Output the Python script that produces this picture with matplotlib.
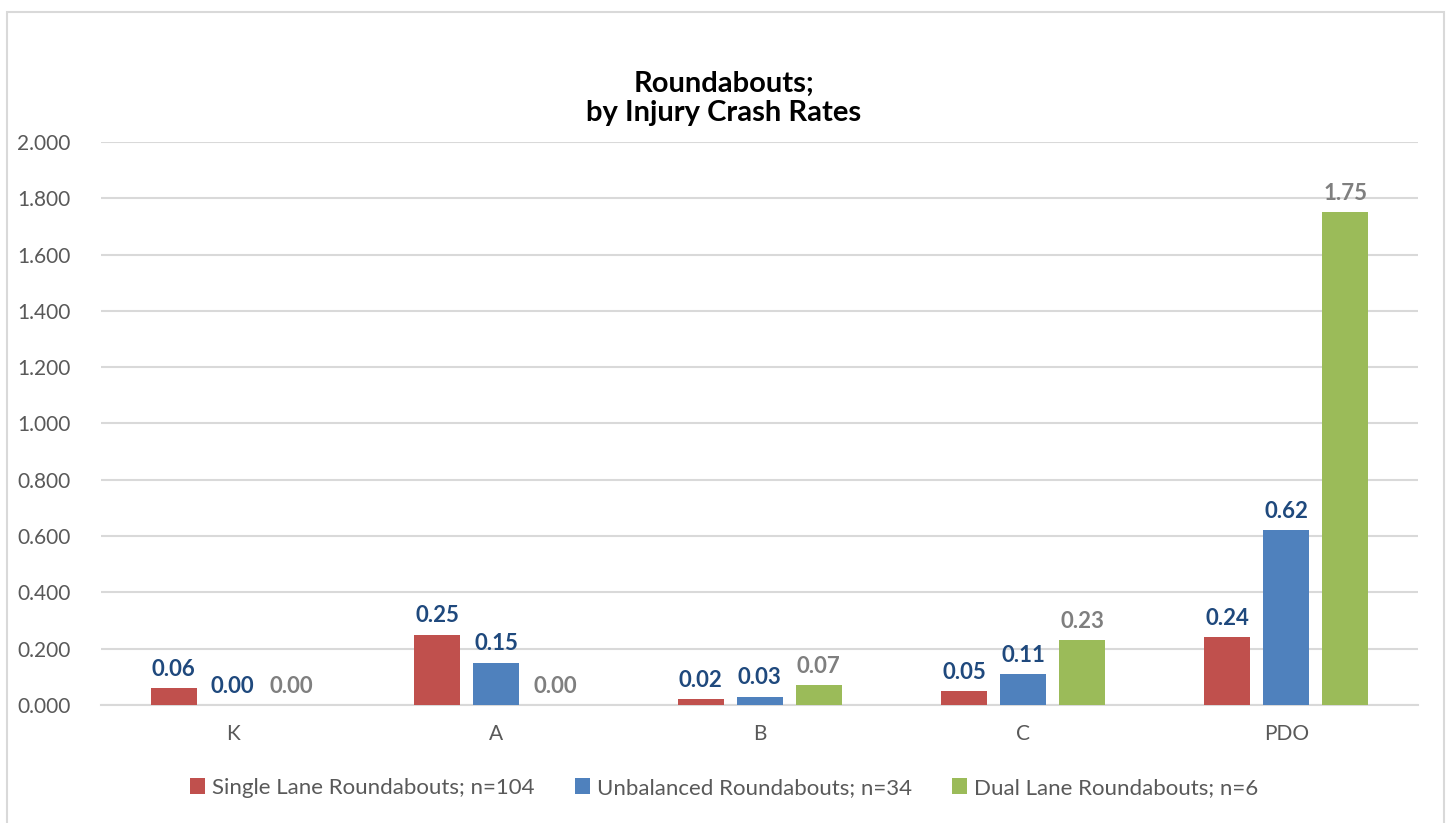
import matplotlib.pyplot as plt
import matplotlib.patches as patches
import numpy as np

plt.rcParams['font.family'] = ['Lato', 'DejaVu Sans']

# Daten
categories = ['K', 'A', 'B', 'C', 'PDO']
single_lane = [0.06, 0.25, 0.02, 0.05, 0.24]
unbalanced = [0.00, 0.15, 0.03, 0.11, 0.62]
dual_lane = [0.00, 0.00, 0.07, 0.23, 1.75]
series_names = ['Single Lane Roundabouts; n=104',
                'Unbalanced Roundabouts; n=34',
                'Dual Lane Roundabouts; n=6']
bar_colors = ['#C0504D', '#4F81BD', '#9BBB59']
label_colors = ['#1F497D', '#1F497D', '#7F7F7F']

fig = plt.figure(figsize=(14.48, 8.23), dpi=100)
ax = fig.add_axes([0.0698, 0.1434, 0.9095, 0.6841])

# Rahmen um das Diagramm
fig.patches.append(patches.Rectangle((7 / 1448, -0.05), (1444 - 7) / 1448, 1 - 12 / 823 + 0.05,
                                     transform=fig.transFigure, fill=False,
                                     edgecolor='#D9D9D9', linewidth=1.5))

x = np.arange(len(categories))
width = 0.175
step = 0.224
all_series = [single_lane, unbalanced, dual_lane]
for i, vals in enumerate(all_series):
    pos = x + (i - 1) * step
    ax.bar(pos, vals, width=width, color=bar_colors[i], label=series_names[i], zorder=3)
    for px, v in zip(pos, vals):
        ax.annotate(f'{v:.2f}', (px, v), xytext=(0, 6), textcoords='offset points',
                    ha='center', va='bottom', fontsize=16, fontweight='bold',
                    color=label_colors[i], zorder=4)

ax.set_xlim(-0.5, len(categories) - 0.5)
ax.set_ylim(0, 2.0)
ax.set_yticks(np.arange(0, 2.01, 0.2))
ax.set_yticklabels([f'{t:.3f}' for t in np.arange(0, 2.01, 0.2)])
ax.set_xticks(x)
ax.set_xticklabels(categories)
ax.tick_params(axis='both', length=0, labelsize=15, labelcolor='#595959')
ax.tick_params(axis='y', pad=22)
ax.tick_params(axis='x', pad=14)
ax.grid(axis='y', color='#D9D9D9', linewidth=1.5, zorder=0)
for s in ['top', 'right', 'left']:
    ax.spines[s].set_visible(False)
ax.spines['bottom'].set_color('#D9D9D9')
ax.spines['bottom'].set_linewidth(1.5)

fig.text(0.5, 1 - 98 / 823, 'Roundabouts;\nby Injury Crash Rates', ha='center', va='center',
         fontsize=21, fontweight='bold', color='black', linespacing=1.15)

fig.legend(loc='center', bbox_to_anchor=(0.5, 1 - 788 / 823), ncol=3, frameon=False,
           fontsize=16, labelcolor='#595959', handlelength=0.7, handleheight=0.7,
           handletextpad=0.3, columnspacing=1.8)

plt.savefig('out.png')
